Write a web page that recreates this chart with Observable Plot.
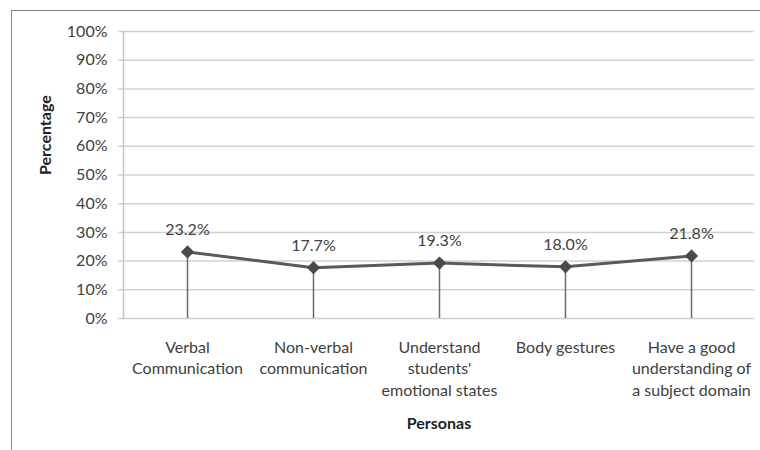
<!DOCTYPE html>
<html>
<head>
<meta charset="utf-8">
<script src="https://cdn.jsdelivr.net/npm/d3@7"></script>
<script src="https://cdn.jsdelivr.net/npm/@observablehq/plot@0.6"></script>
<style>
  html, body { margin: 0; padding: 0; background: #fff; }
  #wrap { position: relative; width: 760px; height: 450px; overflow: hidden; }
  #frame { position: absolute; left: 11px; top: 10px; width: 800px; height: 500px;
           border-left: 1.5px solid #8a8a8a; border-top: 1.5px solid #8a8a8a; box-sizing: border-box; }
  #chart { position: absolute; left: 0; top: 0; }
</style>
</head>
<body>
<div id="wrap"><div id="frame"></div><div id="chart"></div></div>
<script>
const categories = [
  "Verbal\nCommunication",
  "Non-verbal\ncommunication",
  "Understand\nstudents'\nemotional states",
  "Body gestures",
  "Have a good\nunderstanding of\na subject domain"
];
const values = [23.2, 17.7, 19.3, 18.0, 21.8];
const yTicks = [0, 10, 20, 30, 40, 50, 60, 70, 80, 90, 100];
const xTitle = "Personas";
const yTitle = "Percentage";

const data = categories.map((c, i) => ({cat: c, v: values[i]}));
const font = "Lato, 'Open Sans', sans-serif";

const chart = Plot.plot({
  width: 760,
  height: 450,
  marginLeft: 123,
  marginRight: 6,
  marginTop: 31,
  marginBottom: 132,
  style: {fontFamily: font, fontSize: "16px", color: "#404040", background: "transparent"},
  x: {type: "point", domain: categories, padding: 0.5},
  y: {domain: [0, 100]},
  marks: [
    Plot.ruleY(yTicks, {y: d => d, stroke: "#d0d0d0", strokeWidth: 1.5, insetLeft: -5}),
    Plot.frame({anchor: "left", stroke: "#c4c4c4", strokeWidth: 1.5}),
    Plot.axisY(yTicks, {tickSize: 0, tickPadding: 16, tickFormat: d => d + "%", label: null, fill: "#404040", fontSize: 16}),
    Plot.axisX({tickSize: 0, tickPadding: 19, label: null, lineHeight: 1.35, fill: "#404040", fontSize: 16}),
    Plot.ruleX(data, {x: "cat", y1: 0, y2: "v", stroke: "#6a6a6a", strokeWidth: 1.5}),
    Plot.line(data, {x: "cat", y: "v", stroke: "#5a5a5a", strokeWidth: 3}),
    Plot.dot(data, {x: "cat", y: "v", symbol: "diamond2", r: 5, fill: "#4a4a4a", stroke: "#4a4a4a"}),
    Plot.text(data, {x: "cat", y: "v", text: d => d.v.toFixed(1) + "%", dy: -22, fill: "#404040", fontSize: 16}),
    Plot.text([xTitle], {frameAnchor: "bottom", dy: 110, fontWeight: "bold", fill: "#222", fontSize: 16}),
    Plot.text([yTitle], {frameAnchor: "left", dx: -78, rotate: -90, fontWeight: "bold", fill: "#222", fontSize: 16})
  ]
});
document.getElementById("chart").appendChild(chart);
</script>
</body>
</html>
